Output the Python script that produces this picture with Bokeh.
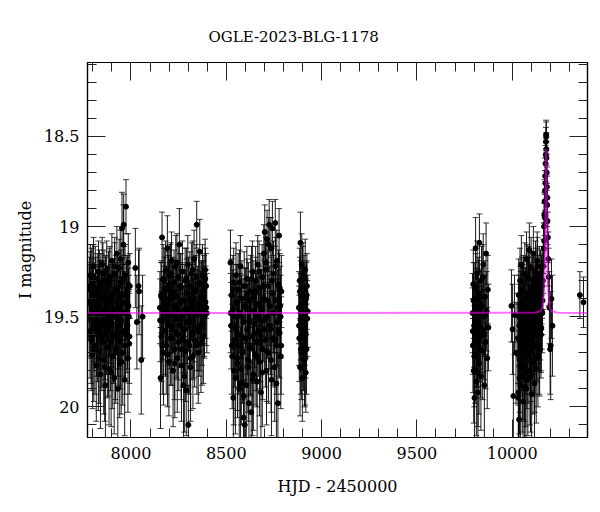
from bokeh.plotting import figure
from bokeh.models import Range1d, LinearAxis, SingleIntervalTicker, CustomJSTickFormatter, ColumnDataSource
from bokeh.embed import file_html
from bokeh.resources import INLINE

FONT = "DejaVu Serif"
TITLE = "OGLE-2023-BLG-1178"

# ---------------- data (HJD-2450000, I mag, error) ----------------
s1_t = [7780, 7782, 7785, 7787, 7789, 7792, 7794, 7797, 7799, 7801,
        7804, 7806, 7809, 7811, 7813, 7816, 7818, 7821, 7823, 7825,
        7828, 7830, 7833, 7835, 7837, 7840, 7842, 7845, 7847, 7849,
        7852, 7854, 7857, 7859, 7861, 7864, 7866, 7869, 7871, 7873,
        7876, 7878, 7881, 7883, 7885, 7888, 7890, 7893, 7895, 7897,
        7900, 7902, 7905, 7907, 7909, 7912, 7914, 7917, 7919, 7921,
        7924, 7926, 7929, 7931, 7933, 7936, 7938, 7941, 7943, 7945,
        7948, 7950, 7953, 7955, 7957, 7960, 7962, 7965, 7967, 7969,
        7972, 7974, 7977, 7979, 7981, 7984, 7986, 7989, 7991, 7994]
s1_m = [19.42, 19.35, 19.58, 19.27, 19.50, 19.63, 19.31, 19.45, 19.71, 19.38,
        19.22, 19.55, 19.47, 19.66, 19.29, 19.41, 19.77, 19.52, 19.34, 19.60,
        19.44, 19.25, 19.69, 19.39, 19.56, 19.82, 19.33, 19.48, 19.62, 19.21,
        19.53, 19.40, 19.74, 19.30, 19.46, 19.59, 19.88, 19.36, 19.51, 19.24,
        19.67, 19.43, 19.57, 19.32, 19.79, 19.49, 19.28, 19.64, 19.41, 19.54,
        19.19, 19.72, 19.45, 19.37, 19.61, 19.84, 19.26, 19.50, 19.68, 19.35,
        19.47, 19.15, 19.58, 19.90, 19.40, 19.55, 19.23, 19.76, 19.44, 19.63,
        19.31, 19.52, 19.01, 19.38, 19.70, 19.10, 18.99, 19.48, 19.85, 19.27,
        19.60, 18.89, 19.42, 19.56, 19.35, 19.73, 19.20, 19.50, 19.65, 19.33]
s1_e = [0.21, 0.18, 0.26, 0.17, 0.23, 0.28, 0.19, 0.22, 0.30, 0.20,
        0.16, 0.25, 0.21, 0.27, 0.18, 0.20, 0.31, 0.24, 0.19, 0.26,
        0.22, 0.17, 0.29, 0.20, 0.25, 0.30, 0.18, 0.23, 0.27, 0.15,
        0.24, 0.21, 0.30, 0.17, 0.22, 0.26, 0.32, 0.19, 0.24, 0.16,
        0.28, 0.21, 0.25, 0.18, 0.31, 0.23, 0.17, 0.27, 0.20, 0.24,
        0.15, 0.29, 0.22, 0.19, 0.26, 0.31, 0.17, 0.23, 0.28, 0.19,
        0.22, 0.15, 0.25, 0.30, 0.20, 0.24, 0.16, 0.30, 0.21, 0.27,
        0.18, 0.24, 0.20, 0.20, 0.29, 0.22, 0.17, 0.23, 0.31, 0.17,
        0.26, 0.15, 0.21, 0.25, 0.19, 0.30, 0.16, 0.23, 0.28, 0.18]
s1x_t = [7781, 7786, 7791, 7796, 7800, 7805, 7810, 7815, 7819, 7824, 7829, 7834, 7838, 7843, 7848,
         7853, 7858, 7862, 7867, 7872, 7877, 7882, 7886, 7891, 7896, 7901, 7906, 7910, 7915, 7920,
         7925, 7930, 7934, 7939, 7944, 7949, 7954, 7958, 7963, 7968, 7973, 7978, 7982, 7987, 7992]
s1x_m = [19.50, 19.33, 19.61, 19.44, 19.28, 19.69, 19.52, 19.37, 19.58, 19.46, 19.73, 19.31, 19.55, 19.40, 19.64,
         19.26, 19.49, 19.78, 19.36, 19.57, 19.43, 19.67, 19.30, 19.53, 19.81, 19.39, 19.60, 19.47, 19.22, 19.70,
         19.45, 19.34, 19.62, 19.51, 19.18, 19.75, 19.42, 19.58, 19.29, 19.66, 19.48, 19.37, 19.55, 19.44, 19.61]
s1x_e = [0.22, 0.19, 0.26, 0.21, 0.18, 0.28, 0.23, 0.20, 0.25, 0.22, 0.29, 0.18, 0.24, 0.21, 0.27,
         0.17, 0.23, 0.30, 0.20, 0.25, 0.21, 0.27, 0.18, 0.23, 0.30, 0.20, 0.26, 0.22, 0.16, 0.28,
         0.22, 0.19, 0.26, 0.23, 0.16, 0.29, 0.21, 0.25, 0.18, 0.27, 0.22, 0.20, 0.24, 0.21, 0.26]

s1b_t = [8023, 8031, 8040, 8043, 8054, 8061]
s1b_m = [19.23, 19.53, 19.33, 19.36, 19.74, 19.50]
s1b_e = [0.22, 0.26, 0.20, 0.24, 0.30, 0.23]

s2_t = [8152, 8155, 8158, 8160, 8163, 8166, 8169, 8171, 8174, 8177,
        8180, 8182, 8185, 8188, 8191, 8193, 8196, 8199, 8202, 8204,
        8207, 8210, 8213, 8215, 8218, 8221, 8224, 8226, 8229, 8232,
        8235, 8237, 8240, 8243, 8246, 8248, 8251, 8254, 8257, 8259,
        8262, 8265, 8268, 8270, 8273, 8276, 8279, 8281, 8284, 8287,
        8290, 8292, 8295, 8298, 8301, 8303, 8306, 8309, 8312, 8314,
        8317, 8320, 8323, 8325, 8328, 8331, 8334, 8336, 8339, 8342,
        8345, 8347, 8350, 8353, 8356, 8358, 8361, 8364, 8367, 8369,
        8372, 8375, 8378, 8380, 8383, 8386, 8389, 8391, 8394, 8398]
s2_m = [19.45, 19.84, 19.38, 19.61, 19.06, 19.52, 19.29, 19.70, 19.43, 19.35,
        19.58, 19.24, 19.66, 19.47, 19.12, 19.54, 19.33, 19.75, 19.40, 19.27,
        19.62, 19.49, 19.19, 19.57, 19.36, 19.80, 19.44, 19.31, 19.68, 19.51,
        19.22, 19.59, 19.39, 19.73, 19.46, 19.28, 19.64, 19.10, 19.55, 19.42,
        19.34, 19.77, 19.50, 19.25, 19.63, 19.88, 19.41, 19.57, 19.30, 19.69,
        19.91, 19.37, 19.53, 19.21, 20.10, 19.48, 19.66, 19.33, 19.78, 19.45,
        19.26, 19.60, 19.40, 19.72, 19.52, 19.18, 19.63, 19.36, 19.49, 19.28,
        18.99, 19.56, 19.43, 19.70, 19.32, 19.58, 19.14, 19.47, 19.65, 19.39,
        19.54, 19.27, 19.44, 19.61, 19.35, 19.50, 19.24, 19.42, 19.33, 19.48]
s2_e = [0.20, 0.28, 0.18, 0.25, 0.14, 0.22, 0.19, 0.29, 0.21, 0.18,
        0.24, 0.16, 0.27, 0.22, 0.18, 0.23, 0.19, 0.30, 0.20, 0.17,
        0.26, 0.21, 0.16, 0.24, 0.19, 0.31, 0.22, 0.18, 0.28, 0.23,
        0.17, 0.25, 0.20, 0.30, 0.22, 0.18, 0.27, 0.20, 0.23, 0.21,
        0.19, 0.31, 0.22, 0.17, 0.26, 0.30, 0.20, 0.24, 0.18, 0.28,
        0.25, 0.19, 0.23, 0.16, 0.22, 0.21, 0.27, 0.19, 0.30, 0.22,
        0.17, 0.25, 0.20, 0.29, 0.23, 0.16, 0.26, 0.19, 0.22, 0.18,
        0.13, 0.24, 0.21, 0.28, 0.18, 0.25, 0.18, 0.22, 0.27, 0.20,
        0.23, 0.17, 0.21, 0.26, 0.19, 0.23, 0.17, 0.20, 0.18, 0.22]
s2x_t = [8153, 8159, 8164, 8170, 8175, 8181, 8186, 8192, 8197, 8203, 8208, 8214, 8219, 8225, 8230,
         8236, 8241, 8247, 8252, 8258, 8263, 8269, 8274, 8280, 8285, 8291, 8296, 8302, 8307, 8313,
         8318, 8324, 8329, 8335, 8340, 8346, 8351, 8357, 8362, 8368, 8373, 8379, 8384, 8390, 8395]
s2x_m = [19.52, 19.39, 19.66, 19.47, 19.30, 19.58, 19.43, 19.71, 19.35, 19.55, 19.26, 19.62, 19.48, 19.38, 19.76,
         19.44, 19.20, 19.60, 19.51, 19.33, 19.68, 19.41, 19.57, 19.83, 19.46, 19.29, 19.64, 19.37, 19.53, 19.73,
         19.42, 19.24, 19.59, 19.48, 19.35, 19.66, 19.45, 19.31, 19.56, 19.40, 19.62, 19.38, 19.50, 19.29, 19.45]
s2x_e = [0.23, 0.20, 0.27, 0.22, 0.18, 0.25, 0.21, 0.29, 0.19, 0.24, 0.17, 0.26, 0.22, 0.20, 0.30,
         0.21, 0.16, 0.25, 0.23, 0.18, 0.28, 0.21, 0.24, 0.31, 0.22, 0.17, 0.27, 0.20, 0.23, 0.29,
         0.21, 0.16, 0.25, 0.22, 0.19, 0.27, 0.21, 0.18, 0.24, 0.20, 0.26, 0.19, 0.22, 0.17, 0.21]

s3_t = [8522, 8525, 8528, 8531, 8534, 8537, 8539, 8542, 8545, 8548,
        8551, 8554, 8557, 8559, 8562, 8565, 8568, 8571, 8574, 8577,
        8579, 8582, 8585, 8588, 8591, 8594, 8597, 8599, 8602, 8605,
        8608, 8611, 8614, 8617, 8619, 8622, 8625, 8628, 8631, 8634,
        8637, 8639, 8642, 8645, 8648, 8651, 8654, 8657, 8659, 8662,
        8665, 8668, 8671, 8674, 8677, 8679, 8682, 8685, 8688, 8691,
        8694, 8697, 8699, 8702, 8705, 8708, 8711, 8714, 8717, 8719,
        8722, 8725, 8728, 8731, 8734, 8737, 8739, 8742, 8745, 8748,
        8751, 8754, 8757, 8759, 8762, 8765, 8768, 8771, 8774, 8777,
        8780, 8783, 8786, 8789]
s3_m = [19.20, 19.55, 19.38, 19.72, 19.46, 19.95, 19.31, 19.63, 19.50, 19.84,
        19.27, 19.58, 19.42, 19.76, 19.35, 19.66, 19.90, 19.48, 19.22, 19.60,
        19.79, 19.40, 19.70, 19.53, 20.06, 19.33, 20.10, 19.62, 19.45, 19.88,
        19.29, 19.57, 19.74, 19.41, 19.98, 19.52, 19.67, 19.36, 20.03, 19.47,
        19.25, 19.61, 19.82, 19.39, 19.54, 19.71, 19.30, 19.64, 19.49, 19.86,
        19.21, 19.58, 19.43, 19.75, 19.34, 19.60, 19.92, 19.46, 19.28, 19.68,
        19.52, 19.15, 19.40, 19.03, 19.63, 19.24, 19.80, 19.07, 19.50, 19.33,
        19.70, 18.99, 19.44, 19.57, 19.12, 19.85, 19.37, 19.01, 19.62, 19.26,
        19.48, 19.78, 18.98, 19.41, 19.66, 19.19, 19.53, 19.98, 19.32, 19.05,
        19.59, 19.44, 19.72, 19.36]
s3_e = [0.18, 0.24, 0.20, 0.29, 0.22, 0.30, 0.19, 0.26, 0.23, 0.31,
        0.18, 0.25, 0.21, 0.30, 0.20, 0.27, 0.30, 0.22, 0.17, 0.26,
        0.31, 0.21, 0.28, 0.24, 0.28, 0.19, 0.25, 0.26, 0.22, 0.31,
        0.18, 0.25, 0.29, 0.21, 0.30, 0.23, 0.27, 0.20, 0.29, 0.22,
        0.17, 0.26, 0.31, 0.20, 0.24, 0.28, 0.19, 0.27, 0.23, 0.31,
        0.16, 0.25, 0.21, 0.30, 0.19, 0.26, 0.31, 0.22, 0.18, 0.28,
        0.23, 0.16, 0.21, 0.15, 0.26, 0.18, 0.30, 0.16, 0.23, 0.19,
        0.28, 0.14, 0.22, 0.25, 0.17, 0.31, 0.20, 0.15, 0.26, 0.18,
        0.22, 0.30, 0.13, 0.21, 0.27, 0.17, 0.24, 0.28, 0.19, 0.15,
        0.25, 0.22, 0.29, 0.20]
s3x_t = [8523, 8529, 8535, 8540, 8546, 8552, 8558, 8563, 8569, 8575, 8580, 8586, 8592, 8598, 8603, 8609,
         8615, 8620, 8626, 8632, 8638, 8643, 8649, 8655, 8660, 8666, 8672, 8678, 8683, 8689, 8695, 8700,
         8706, 8712, 8718, 8723, 8729, 8735, 8740, 8746, 8752, 8758, 8763, 8769, 8775, 8780, 8785, 8788]
s3x_m = [19.48, 19.66, 19.35, 19.80, 19.56, 19.42, 19.73, 19.60, 19.31, 19.87, 19.50, 19.69, 19.94, 19.44, 19.62, 19.38,
         19.78, 19.53, 19.66, 19.29, 19.85, 19.47, 19.59, 19.36, 19.72, 19.51, 19.25, 19.64, 19.45, 19.81, 19.33, 19.57,
         19.20, 19.69, 19.41, 19.10, 19.55, 19.74, 19.30, 19.48, 19.63, 19.22, 19.87, 19.45, 19.58, 19.34, 19.50, 19.66]
s3x_e = [0.22, 0.27, 0.19, 0.30, 0.24, 0.21, 0.29, 0.25, 0.18, 0.31, 0.23, 0.27, 0.30, 0.21, 0.26, 0.20,
         0.30, 0.23, 0.27, 0.18, 0.31, 0.22, 0.25, 0.19, 0.28, 0.23, 0.17, 0.26, 0.21, 0.30, 0.18, 0.24,
         0.16, 0.28, 0.21, 0.15, 0.24, 0.29, 0.18, 0.22, 0.26, 0.16, 0.31, 0.21, 0.25, 0.19, 0.23, 0.27]

s4_t = [8881, 8883, 8885, 8887, 8889, 8890, 8892, 8894, 8896, 8898, 8899, 8901, 8903,
        8905, 8907, 8908, 8910, 8912, 8914, 8916, 8917, 8919, 8921, 8923, 8925, 8927,
        8882, 8886, 8891, 8895, 8900, 8904, 8909, 8913, 8918, 8922]
s4_m = [19.45, 19.62, 19.30, 19.78, 19.09, 19.52, 19.38, 19.70, 19.21, 19.57, 19.84, 19.43, 19.27,
        19.66, 19.49, 19.35, 19.74, 19.55, 19.24, 19.60, 19.81, 19.40, 19.68, 19.33, 19.51, 19.47,
        19.55, 19.36, 19.68, 19.47, 19.29, 19.60, 19.42, 19.73, 19.51, 19.38]
s4_e = [0.20, 0.24, 0.18, 0.27, 0.17, 0.22, 0.19, 0.26, 0.17, 0.23, 0.24, 0.20, 0.18,
        0.25, 0.21, 0.19, 0.26, 0.22, 0.17, 0.24, 0.22, 0.20, 0.25, 0.18, 0.21, 0.20,
        0.22, 0.19, 0.25, 0.21, 0.18, 0.24, 0.20, 0.26, 0.22, 0.19]

s5_t = [9792, 9794, 9796, 9798, 9800, 9802, 9804, 9806, 9808, 9810, 9812, 9814,
        9816, 9818, 9820, 9822, 9824, 9826, 9828, 9830, 9833, 9836, 9839, 9842,
        9845, 9848, 9851, 9854, 9857, 9860, 9863, 9866, 9869, 9872, 9875,
        9793, 9797, 9801, 9805, 9809, 9813, 9817, 9821, 9825, 9829, 9834, 9840, 9846, 9852, 9858]
s5_m = [19.48, 19.66, 19.32, 19.80, 19.55, 19.95, 19.40, 19.71, 19.12, 19.58, 19.86, 19.44,
        19.26, 19.63, 19.92, 19.37, 19.52, 19.76, 19.09, 19.61, 19.45, 19.83, 19.30, 19.57,
        19.69, 19.21, 19.50, 19.88, 19.39, 19.64, 19.15, 19.47, 19.73, 19.35, 19.56,
        19.58, 19.41, 19.72, 19.50, 19.34, 19.63, 19.46, 19.81, 19.39, 19.55, 19.68, 19.44, 19.28, 19.60, 19.49]
s5_e = [0.22, 0.26, 0.19, 0.29, 0.23, 0.31, 0.20, 0.27, 0.17, 0.24, 0.30, 0.21,
        0.18, 0.26, 0.31, 0.20, 0.23, 0.28, 0.16, 0.25, 0.21, 0.30, 0.19, 0.24,
        0.27, 0.17, 0.22, 0.31, 0.20, 0.26, 0.17, 0.22, 0.28, 0.19, 0.24,
        0.24, 0.21, 0.28, 0.22, 0.19, 0.26, 0.21, 0.30, 0.20, 0.24, 0.27, 0.21, 0.18, 0.25, 0.22]

s6a_t = [9996, 10002, 10006, 10012, 10020]
s6a_m = [19.44, 19.57, 19.94, 19.49, 19.70]
s6a_e = [0.20, 0.25, 0.30, 0.22, 0.28]

s6_t = [10030, 10032, 10034, 10036, 10037, 10039, 10041, 10043, 10045, 10046,
        10048, 10050, 10052, 10054, 10055, 10057, 10059, 10061, 10063, 10064,
        10066, 10068, 10070, 10072, 10073, 10075, 10077, 10079, 10081, 10082,
        10084, 10086, 10088, 10090, 10091, 10093, 10095, 10097, 10099, 10100,
        10102, 10104, 10106, 10108, 10109, 10111, 10113, 10115, 10117, 10118,
        10120, 10122, 10124, 10126, 10127, 10129, 10131, 10133, 10135, 10136,
        10138, 10140, 10142, 10144, 10145, 10147, 10149, 10151, 10153, 10155,
        10157, 10159]
s6_m = [19.62, 19.95, 19.38, 20.07, 19.55, 19.74, 19.30, 19.88, 19.47, 19.67,
        19.21, 19.58, 19.83, 19.42, 19.70, 19.97, 19.35, 19.61, 19.50, 19.78,
        19.26, 19.66, 19.44, 19.90, 19.53, 19.18, 19.72, 19.39, 19.60, 19.85,
        19.48, 19.29, 19.64, 19.13, 19.56, 19.80, 19.41, 19.69, 19.23, 19.52,
        19.93, 19.36, 19.62, 19.46, 19.75, 19.15, 19.58, 19.32, 19.87, 19.44,
        19.66, 19.25, 19.54, 19.79, 19.40, 19.61, 19.19, 19.50, 19.72, 19.34,
        19.57, 19.45, 19.27, 19.68, 19.42, 19.52, 19.30, 19.60, 19.38, 19.47,
        19.33, 19.41]
s6_e = [0.25, 0.31, 0.20, 0.30, 0.23, 0.29, 0.18, 0.31, 0.22, 0.27,
        0.16, 0.24, 0.31, 0.21, 0.28, 0.30, 0.19, 0.25, 0.23, 0.30,
        0.17, 0.27, 0.21, 0.31, 0.23, 0.15, 0.29, 0.20, 0.25, 0.31,
        0.22, 0.18, 0.26, 0.15, 0.24, 0.30, 0.20, 0.28, 0.17, 0.23,
        0.31, 0.19, 0.25, 0.22, 0.29, 0.15, 0.24, 0.18, 0.31, 0.21,
        0.27, 0.17, 0.23, 0.30, 0.20, 0.25, 0.16, 0.22, 0.28, 0.18,
        0.23, 0.20, 0.16, 0.26, 0.19, 0.22, 0.17, 0.24, 0.19, 0.21,
        0.18, 0.19]
s6x_t = [10031, 10035, 10038, 10042, 10047, 10051, 10056, 10060, 10065, 10069, 10074, 10078, 10083, 10087,
         10092, 10096, 10101, 10105, 10110, 10114, 10119, 10123, 10128, 10132, 10137, 10141, 10146, 10150,
         10154, 10158, 10033, 10044, 10058, 10071, 10085, 10098, 10112, 10125, 10139, 10152]
s6x_m = [19.71, 19.50, 19.84, 19.43, 19.64, 19.36, 19.77, 19.55, 19.89, 19.47, 19.62, 19.28, 19.70, 19.52,
         19.40, 19.83, 19.58, 19.33, 19.67, 19.45, 19.74, 19.38, 19.60, 19.22, 19.53, 19.66, 19.41, 19.57,
         19.35, 19.48, 19.92, 19.59, 19.44, 19.81, 19.37, 19.65, 19.52, 19.29, 19.46, 19.56]
s6x_e = [0.28, 0.23, 0.31, 0.21, 0.27, 0.19, 0.30, 0.24, 0.31, 0.22, 0.26, 0.18, 0.28, 0.23,
         0.20, 0.31, 0.25, 0.19, 0.27, 0.21, 0.29, 0.20, 0.25, 0.16, 0.23, 0.27, 0.20, 0.24,
         0.19, 0.22, 0.31, 0.25, 0.21, 0.30, 0.20, 0.26, 0.23, 0.17, 0.21, 0.24]

peak_t = [10161, 10163, 10165, 10167, 10168, 10169, 10170, 10171, 10172, 10173, 10174, 10175, 10176,
          10177, 10178, 10178.5, 10179, 10180, 10181, 10182, 10183, 10184, 10185, 10187, 10189, 10191]
peak_m = [19.30, 19.22, 19.12, 19.00, 19.08, 18.93, 18.86, 18.95, 18.80, 18.72, 18.76, 18.65, 18.60,
          18.53, 18.49, 18.50, 18.57, 18.62, 18.70, 18.78, 18.88, 18.84, 18.97, 19.06, 19.18, 19.28]
peak_e = [0.16, 0.15, 0.14, 0.13, 0.14, 0.12, 0.12, 0.13, 0.11, 0.10, 0.11, 0.10, 0.09,
          0.08, 0.08, 0.08, 0.09, 0.09, 0.10, 0.11, 0.12, 0.12, 0.13, 0.14, 0.15, 0.16]

post_t = [10195, 10199, 10202, 10206, 10211, 10355, 10374]
post_m = [19.45, 19.68, 19.66, 19.40, 19.55, 19.38, 19.42]
post_e = [0.20, 0.25, 0.30, 0.22, 0.28, 0.13, 0.14]

# model light curve
model_t = [7772, 10118, 10148, 10158, 10164, 10168, 10171, 10173, 10174, 10175, 10176, 10177,
           10178, 10179, 10180, 10181, 10182, 10183, 10185, 10188, 10192, 10198, 10208, 10238, 10395]
model_m = [19.48, 19.478, 19.47, 19.45, 19.40, 19.32, 19.20, 19.07, 18.97, 18.85, 18.72, 18.62,
           18.57, 18.62, 18.72, 18.85, 18.97, 19.07, 19.20, 19.32, 19.40, 19.45, 19.47, 19.478, 19.48]

groups = [(s1_t, s1_m, s1_e), (s1x_t, s1x_m, s1x_e), (s1b_t, s1b_m, s1b_e),
          (s2_t, s2_m, s2_e), (s2x_t, s2x_m, s2x_e), (s3_t, s3_m, s3_e), (s3x_t, s3x_m, s3x_e),
          (s4_t, s4_m, s4_e), (s5_t, s5_m, s5_e), (s6a_t, s6a_m, s6a_e), (s6_t, s6_m, s6_e),
          (s6x_t, s6x_m, s6x_e), (peak_t, peak_m, peak_e), (post_t, post_m, post_e)]
T, M, LO, HI = [], [], [], []
for ts, ms, es in groups:
    for a, b, c in zip(ts, ms, es):
        T.append(a); M.append(b); LO.append(b + c); HI.append(b - c)
src = ColumnDataSource(dict(t=T, m=M, lo=LO, hi=HI))

p = figure(width=592, height=504, x_range=Range1d(7772, 10395), y_range=Range1d(20.17, 18.09),
           output_backend="svg", toolbar_location=None, x_axis_type=None, y_axis_type=None,
           min_border_left=87, min_border_right=5, min_border_top=62, min_border_bottom=67)
p.grid.visible = False
p.outline_line_color = "black"
p.outline_line_width = 1.2
p.background_fill_color = "white"
p.border_fill_color = "white"

xt = SingleIntervalTicker(interval=500, num_minor_ticks=5)
yt = SingleIntervalTicker(interval=0.5, num_minor_ticks=5)
yfmt = CustomJSTickFormatter(code="return tick.toFixed(1).replace(/\\.0$/, '');")
blank = CustomJSTickFormatter(code="return '';")

def style(ax, labels=True):
    ax.major_tick_in = 18
    ax.major_tick_out = 0
    ax.minor_tick_in = 9
    ax.minor_tick_out = 0
    ax.major_tick_line_color = "#222222"
    ax.minor_tick_line_color = "#222222"
    ax.major_tick_line_width = 1
    ax.minor_tick_line_width = 1
    ax.axis_line_color = "black"
    ax.axis_line_width = 1.2
    ax.major_label_text_font = FONT
    ax.major_label_text_font_size = "16px"
    ax.major_label_text_color = "black"
    ax.axis_label_text_font = FONT
    ax.axis_label_text_font_size = "16px"
    ax.axis_label_text_font_style = "normal"
    ax.axis_label_text_color = "black"
    if not labels:
        ax.major_label_standoff = 0

xb = LinearAxis(ticker=xt, axis_label="HJD - 2450000")
style(xb)
xb.major_label_standoff = 9
xb.axis_label_standoff = 15
xa = LinearAxis(ticker=xt, formatter=blank)
style(xa, False)
yl = LinearAxis(ticker=yt, formatter=yfmt, axis_label="I magnitude")
style(yl)
yl.major_label_standoff = 8
yl.axis_label_standoff = 6
yr = LinearAxis(ticker=yt, formatter=blank)
style(yr, False)
p.add_layout(xb, "below")
p.add_layout(xa, "above")
p.add_layout(yl, "left")
p.add_layout(yr, "right")

p.title.text = TITLE
p.title.text_font = FONT
p.title.text_font_size = "15px"
p.title.text_font_style = "normal"
p.title.text_color = "black"
p.title.align = "left"
p.title.offset = 121
p.title.standoff = 34

p.segment(x0="t", y0="lo", x1="t", y1="hi", source=src, line_color="black", line_alpha=0.9, line_width=1)
p.scatter(x="t", y="lo", source=src, marker="dash", size=6, line_color="black", line_alpha=0.75, line_width=1)
p.scatter(x="t", y="hi", source=src, marker="dash", size=6, line_color="black", line_alpha=0.75, line_width=1)
p.scatter(x="t", y="m", source=src, marker="circle", size=5, fill_color="black", line_color="black")
p.line(model_t, model_m, line_color="#ff00ff", line_alpha=0.55, line_width=2)

open("out.html", "w").write(file_html(p, INLINE))
